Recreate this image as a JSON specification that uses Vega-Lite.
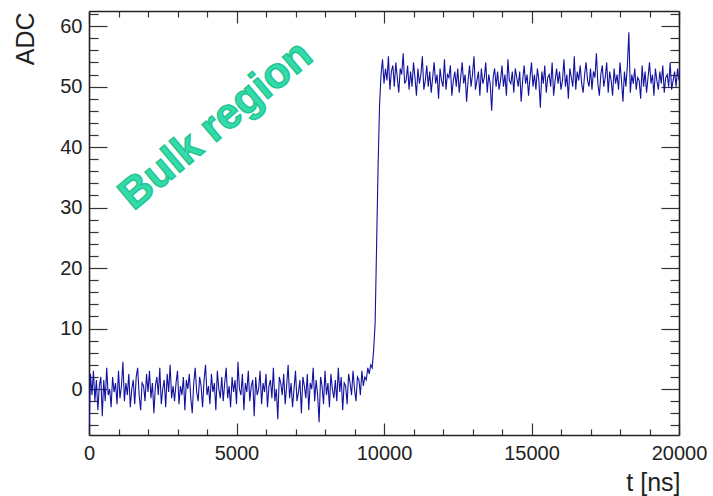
{
  "$schema": "https://vega.github.io/schema/vega-lite/v6.json",
  "width": 590,
  "height": 424,
  "autosize": {"type": "none"},
  "padding": {"left": 89, "top": 11, "right": 34, "bottom": 61},
  "background": "white",
  "config": {
    "view": {"stroke": null},
    "axis": {
      "grid": false,
      "domainColor": "#222",
      "domainWidth": 1.6,
      "tickColor": "#333",
      "tickWidth": 1.2,
      "labelFont": "Liberation Sans",
      "labelFontSize": 20,
      "labelColor": "#222",
      "labelFlush": false,
      "labelOverlap": false,
      "titleFont": "Liberation Sans",
      "titleFontSize": 25,
      "titleFontWeight": "normal",
      "titleColor": "#222"
    }
  },
  "data": {
    "values": [
      {"t":0,"v":-7.5},{"t":50,"v":2.5},{"t":100,"v":-1.0},{"t":150,"v":3.0},{"t":200,"v":-2.0},{"t":250,"v":1.5},{"t":300,"v":-3.5},{"t":350,"v":0.5},{"t":400,"v":2.0},{"t":450,"v":-4.5},
      {"t":500,"v":1.5},{"t":550,"v":-2.0},{"t":600,"v":3.5},{"t":650,"v":-1.0},{"t":700,"v":0.0},{"t":750,"v":-3.0},{"t":800,"v":2.0},{"t":850,"v":-0.5},{"t":900,"v":1.0},{"t":950,"v":-2.5},
      {"t":1000,"v":3.0},{"t":1050,"v":-1.5},{"t":1100,"v":0.5},{"t":1150,"v":4.5},{"t":1200,"v":-2.0},{"t":1250,"v":1.0},{"t":1300,"v":-1.0},{"t":1350,"v":2.5},{"t":1400,"v":-3.0},{"t":1450,"v":0.0},
      {"t":1500,"v":1.5},{"t":1550,"v":-2.5},{"t":1600,"v":2.0},{"t":1650,"v":3.5},{"t":1700,"v":-1.0},{"t":1750,"v":-3.5},{"t":1800,"v":1.0},{"t":1850,"v":0.5},{"t":1900,"v":-2.0},{"t":1950,"v":2.5},
      {"t":2000,"v":-0.5},{"t":2050,"v":3.0},{"t":2100,"v":-1.5},{"t":2150,"v":1.0},{"t":2200,"v":-4.0},{"t":2250,"v":0.5},{"t":2300,"v":2.0},{"t":2350,"v":-1.0},{"t":2400,"v":3.5},{"t":2450,"v":-2.5},
      {"t":2500,"v":0.0},{"t":2550,"v":1.5},{"t":2600,"v":-3.0},{"t":2650,"v":2.5},{"t":2700,"v":-0.5},{"t":2750,"v":4.0},{"t":2800,"v":-1.5},{"t":2850,"v":0.5},{"t":2900,"v":-2.0},{"t":2950,"v":1.0},
      {"t":3000,"v":3.0},{"t":3050,"v":-2.5},{"t":3100,"v":0.5},{"t":3150,"v":-1.0},{"t":3200,"v":2.0},{"t":3250,"v":-3.5},{"t":3300,"v":1.5},{"t":3350,"v":0.0},{"t":3400,"v":2.5},{"t":3450,"v":-1.5},
      {"t":3500,"v":-4.0},{"t":3550,"v":1.0},{"t":3600,"v":3.5},{"t":3650,"v":-0.5},{"t":3700,"v":-2.0},{"t":3750,"v":2.0},{"t":3800,"v":0.5},{"t":3850,"v":-3.0},{"t":3900,"v":1.5},{"t":3950,"v":4.0},
      {"t":4000,"v":-1.0},{"t":4050,"v":0.5},{"t":4100,"v":-2.5},{"t":4150,"v":2.5},{"t":4200,"v":-0.5},{"t":4250,"v":1.0},{"t":4300,"v":-3.5},{"t":4350,"v":3.0},{"t":4400,"v":0.0},{"t":4450,"v":-1.5},
      {"t":4500,"v":2.0},{"t":4550,"v":-2.0},{"t":4600,"v":1.0},{"t":4650,"v":3.5},{"t":4700,"v":-1.5},{"t":4750,"v":0.5},{"t":4800,"v":-3.0},{"t":4850,"v":2.0},{"t":4900,"v":-0.5},{"t":4950,"v":1.5},
      {"t":5000,"v":-2.5},{"t":5050,"v":4.5},{"t":5100,"v":0.0},{"t":5150,"v":-1.0},{"t":5200,"v":2.5},{"t":5250,"v":-3.5},{"t":5300,"v":1.0},{"t":5350,"v":-0.5},{"t":5400,"v":3.0},{"t":5450,"v":-2.0},
      {"t":5500,"v":0.5},{"t":5550,"v":1.5},{"t":5600,"v":-4.5},{"t":5650,"v":2.0},{"t":5700,"v":-1.0},{"t":5750,"v":0.0},{"t":5800,"v":3.0},{"t":5850,"v":-2.5},{"t":5900,"v":1.0},{"t":5950,"v":-0.5},
      {"t":6000,"v":2.5},{"t":6050,"v":-3.0},{"t":6100,"v":0.5},{"t":6150,"v":1.5},{"t":6200,"v":-1.5},{"t":6250,"v":3.5},{"t":6300,"v":-2.0},{"t":6350,"v":0.0},{"t":6400,"v":-5.0},{"t":6450,"v":2.0},
      {"t":6500,"v":1.0},{"t":6550,"v":-1.0},{"t":6600,"v":2.5},{"t":6650,"v":-2.5},{"t":6700,"v":0.5},{"t":6750,"v":4.0},{"t":6800,"v":-1.5},{"t":6850,"v":1.0},{"t":6900,"v":-3.0},{"t":6950,"v":0.0},
      {"t":7000,"v":3.0},{"t":7050,"v":-2.0},{"t":7100,"v":-0.5},{"t":7150,"v":1.5},{"t":7200,"v":-4.0},{"t":7250,"v":2.0},{"t":7300,"v":0.5},{"t":7350,"v":-1.5},{"t":7400,"v":2.5},{"t":7450,"v":-3.5},
      {"t":7500,"v":1.0},{"t":7550,"v":0.0},{"t":7600,"v":3.5},{"t":7650,"v":-2.0},{"t":7700,"v":1.5},{"t":7750,"v":-1.0},{"t":7800,"v":-5.5},{"t":7850,"v":2.0},{"t":7900,"v":0.5},{"t":7950,"v":-2.5},
      {"t":8000,"v":3.0},{"t":8050,"v":-1.0},{"t":8100,"v":1.0},{"t":8150,"v":-3.0},{"t":8200,"v":2.5},{"t":8250,"v":0.0},{"t":8300,"v":-1.5},{"t":8350,"v":1.5},{"t":8400,"v":-2.0},{"t":8450,"v":3.5},
      {"t":8500,"v":-0.5},{"t":8550,"v":2.0},{"t":8600,"v":-3.5},{"t":8650,"v":1.0},{"t":8700,"v":0.5},{"t":8750,"v":-2.5},{"t":8800,"v":2.5},{"t":8850,"v":1.0},{"t":8900,"v":-1.0},{"t":8950,"v":3.0},
      {"t":9000,"v":0.0},{"t":9050,"v":-2.0},{"t":9100,"v":2.0},{"t":9150,"v":1.5},{"t":9200,"v":-1.0},{"t":9250,"v":3.0},{"t":9300,"v":0.5},{"t":9350,"v":2.0},{"t":9400,"v":1.5},{"t":9450,"v":3.5},
      {"t":9500,"v":2.5},{"t":9550,"v":4.0},{"t":9600,"v":3.5},{"t":9650,"v":6.5},{"t":9700,"v":11},{"t":9750,"v":24},{"t":9800,"v":37},{"t":9850,"v":47},
      {"t":9900,"v":52.0},{"t":9950,"v":54.5},{"t":10000,"v":50.5},{"t":10050,"v":53.0},{"t":10100,"v":51.0},{"t":10150,"v":55.0},{"t":10200,"v":49.5},{"t":10250,"v":52.5},{"t":10300,"v":53.5},{"t":10350,"v":50.0},
      {"t":10400,"v":54.0},{"t":10450,"v":51.5},{"t":10500,"v":49.0},{"t":10550,"v":53.0},{"t":10600,"v":52.0},{"t":10650,"v":55.5},{"t":10700,"v":50.5},{"t":10750,"v":51.0},{"t":10800,"v":53.5},{"t":10850,"v":49.5},
      {"t":10900,"v":52.5},{"t":10950,"v":50.0},{"t":11000,"v":54.0},{"t":11050,"v":51.5},{"t":11100,"v":48.5},{"t":11150,"v":53.0},{"t":11200,"v":50.5},{"t":11250,"v":52.0},{"t":11300,"v":55.0},{"t":11350,"v":49.5},
      {"t":11400,"v":51.0},{"t":11450,"v":53.5},{"t":11500,"v":50.0},{"t":11550,"v":52.5},{"t":11600,"v":49.0},{"t":11650,"v":51.5},{"t":11700,"v":54.0},{"t":11750,"v":50.5},{"t":11800,"v":52.0},{"t":11850,"v":48.0},
      {"t":11900,"v":53.0},{"t":11950,"v":51.0},{"t":12000,"v":50.0},{"t":12050,"v":54.5},{"t":12100,"v":49.5},{"t":12150,"v":52.0},{"t":12200,"v":51.5},{"t":12250,"v":53.5},{"t":12300,"v":48.5},{"t":12350,"v":51.0},
      {"t":12400,"v":52.5},{"t":12450,"v":50.0},{"t":12500,"v":53.0},{"t":12550,"v":49.0},{"t":12600,"v":51.5},{"t":12650,"v":54.0},{"t":12700,"v":50.5},{"t":12750,"v":52.0},{"t":12800,"v":47.5},{"t":12850,"v":51.0},
      {"t":12900,"v":53.5},{"t":12950,"v":50.0},{"t":13000,"v":52.0},{"t":13050,"v":55.0},{"t":13100,"v":49.5},{"t":13150,"v":51.0},{"t":13200,"v":52.5},{"t":13250,"v":48.5},{"t":13300,"v":53.0},{"t":13350,"v":50.5},
      {"t":13400,"v":51.5},{"t":13450,"v":54.0},{"t":13500,"v":49.0},{"t":13550,"v":52.0},{"t":13600,"v":50.5},{"t":13650,"v":46.0},{"t":13700,"v":51.5},{"t":13750,"v":53.0},{"t":13800,"v":50.0},{"t":13850,"v":52.5},
      {"t":13900,"v":49.5},{"t":13950,"v":51.0},{"t":14000,"v":53.5},{"t":14050,"v":50.0},{"t":14100,"v":52.0},{"t":14150,"v":48.5},{"t":14200,"v":54.5},{"t":14250,"v":51.0},{"t":14300,"v":50.5},{"t":14350,"v":52.5},
      {"t":14400,"v":49.0},{"t":14450,"v":53.0},{"t":14500,"v":51.5},{"t":14550,"v":50.0},{"t":14600,"v":52.5},{"t":14650,"v":47.5},{"t":14700,"v":51.0},{"t":14750,"v":53.5},{"t":14800,"v":50.5},{"t":14850,"v":52.0},
      {"t":14900,"v":48.5},{"t":14950,"v":51.5},{"t":15000,"v":54.0},{"t":15050,"v":50.0},{"t":15100,"v":52.0},{"t":15150,"v":49.5},{"t":15200,"v":53.0},{"t":15250,"v":51.0},{"t":15300,"v":46.5},{"t":15350,"v":52.5},
      {"t":15400,"v":50.5},{"t":15450,"v":53.5},{"t":15500,"v":49.0},{"t":15550,"v":51.5},{"t":15600,"v":52.0},{"t":15650,"v":50.0},{"t":15700,"v":54.0},{"t":15750,"v":48.5},{"t":15800,"v":51.0},{"t":15850,"v":53.0},
      {"t":15900,"v":50.5},{"t":15950,"v":52.5},{"t":16000,"v":49.5},{"t":16050,"v":51.0},{"t":16100,"v":54.5},{"t":16150,"v":50.0},{"t":16200,"v":52.0},{"t":16250,"v":48.0},{"t":16300,"v":53.0},{"t":16350,"v":51.5},
      {"t":16400,"v":50.0},{"t":16450,"v":55.0},{"t":16500,"v":49.5},{"t":16550,"v":52.5},{"t":16600,"v":51.0},{"t":16650,"v":53.5},{"t":16700,"v":50.5},{"t":16750,"v":49.0},{"t":16800,"v":52.0},{"t":16850,"v":54.0},
      {"t":16900,"v":51.0},{"t":16950,"v":50.0},{"t":17000,"v":53.0},{"t":17050,"v":49.5},{"t":17100,"v":52.5},{"t":17150,"v":51.5},{"t":17200,"v":55.5},{"t":17250,"v":50.5},{"t":17300,"v":48.5},{"t":17350,"v":52.0},
      {"t":17400,"v":53.5},{"t":17450,"v":50.0},{"t":17500,"v":51.5},{"t":17550,"v":54.0},{"t":17600,"v":49.0},{"t":17650,"v":52.5},{"t":17700,"v":51.0},{"t":17750,"v":48.5},{"t":17800,"v":53.0},{"t":17850,"v":50.5},
      {"t":17900,"v":52.0},{"t":17950,"v":49.5},{"t":18000,"v":54.0},{"t":18050,"v":51.0},{"t":18100,"v":47.5},{"t":18150,"v":52.5},{"t":18200,"v":50.0},{"t":18250,"v":53.5},{"t":18300,"v":59.0},{"t":18350,"v":49.0},
      {"t":18400,"v":52.0},{"t":18450,"v":50.5},{"t":18500,"v":53.0},{"t":18550,"v":49.5},{"t":18600,"v":51.5},{"t":18650,"v":51.0},{"t":18700,"v":48.0},{"t":18750,"v":53.5},{"t":18800,"v":50.0},{"t":18850,"v":52.5},
      {"t":18900,"v":49.0},{"t":18950,"v":51.5},{"t":19000,"v":54.0},{"t":19050,"v":50.5},{"t":19100,"v":52.0},{"t":19150,"v":48.5},{"t":19200,"v":53.0},{"t":19250,"v":51.0},{"t":19300,"v":49.5},{"t":19350,"v":52.5},
      {"t":19400,"v":50.5},{"t":19450,"v":53.5},{"t":19500,"v":49.0},{"t":19550,"v":51.5},{"t":19600,"v":52.0},{"t":19650,"v":50.0},{"t":19700,"v":54.0},{"t":19750,"v":49.5},{"t":19800,"v":51.0},{"t":19850,"v":52.5},
      {"t":19900,"v":50.0},{"t":19950,"v":53.0},{"t":20000,"v":51.0}
    ]
  },
  "layer": [
    {
      "mark": {"type": "line", "color": "#12129e", "strokeWidth": 1.1, "clip": true},
      "encoding": {
        "x": {
          "field": "t", "type": "quantitative",
          "scale": {"domain": [0, 20000], "nice": false, "zero": false},
          "axis": {
            "orient": "bottom",
            "values": [0,1000,2000,3000,4000,5000,6000,7000,8000,9000,10000,11000,12000,13000,14000,15000,16000,17000,18000,19000,20000],
            "format": "d",
            "labelExpr": "datum.value % 5000 === 0 ? datum.label : ''",
            "tickSize": {"condition": {"test": "datum.value % 5000 === 0", "value": -12}, "value": -6},
            "labelPadding": 20,
            "title": "t [ns]",
            "titleAnchor": "end",
            "titleAlign": "right",
            "titleBaseline": "alphabetic",
            "titleX": 591,
            "titleY": 55
          }
        },
        "y": {
          "field": "v", "type": "quantitative",
          "scale": {"domain": [-7.6, 62.5], "nice": false, "zero": false},
          "axis": {
            "orient": "left",
            "values": [-6,-4,-2,0,2,4,6,8,10,12,14,16,18,20,22,24,26,28,30,32,34,36,38,40,42,44,46,48,50,52,54,56,58,60,62],
            "format": "d",
            "labelExpr": "datum.value % 10 === 0 ? datum.label : ''",
            "tickSize": {"condition": {"test": "datum.value % 10 === 0", "value": -18}, "value": -9},
            "labelPadding": 25,
            "title": "ADC",
            "titleAngle": -90,
            "titleAlign": "right",
            "titleBaseline": "alphabetic",
            "titleX": -56,
            "titleY": 1
          }
        }
      }
    },
    {
      "mark": {"type": "line", "strokeOpacity": 0},
      "encoding": {
        "x": {
          "field": "t", "type": "quantitative",
          "scale": {"domain": [0, 20000], "nice": false, "zero": false},
          "axis": {
            "orient": "top",
            "values": [0,1000,2000,3000,4000,5000,6000,7000,8000,9000,10000,11000,12000,13000,14000,15000,16000,17000,18000,19000,20000],
            "labels": false,
            "title": null,
            "tickSize": {"condition": {"test": "datum.value % 5000 === 0", "value": -12}, "value": -6}
          }
        },
        "y": {
          "field": "v", "type": "quantitative",
          "scale": {"domain": [-7.6, 62.5], "nice": false, "zero": false},
          "axis": {
            "orient": "right",
            "values": [-6,-4,-2,0,2,4,6,8,10,12,14,16,18,20,22,24,26,28,30,32,34,36,38,40,42,44,46,48,50,52,54,56,58,60,62],
            "labels": false,
            "title": null,
            "tickSize": {"condition": {"test": "datum.value % 10 === 0", "value": -18}, "value": -9}
          }
        }
      }
    },
    {
      "data": {"values": [{"t": 4300, "v": 43.6, "label": "Bulk region"}]},
      "mark": {
        "type": "text",
        "font": "Liberation Sans",
        "fontWeight": "bold",
        "fontSize": 43,
        "angle": -40,
        "align": "center",
        "baseline": "middle",
        "fill": "#33dba8",
        "stroke": "#22c493",
        "strokeWidth": 1.4
      },
      "encoding": {
        "x": {"field": "t", "type": "quantitative", "axis": null},
        "y": {"field": "v", "type": "quantitative", "axis": null},
        "text": {"field": "label"}
      }
    }
  ],
  "resolve": {"axis": {"x": "independent", "y": "independent"}}
}
